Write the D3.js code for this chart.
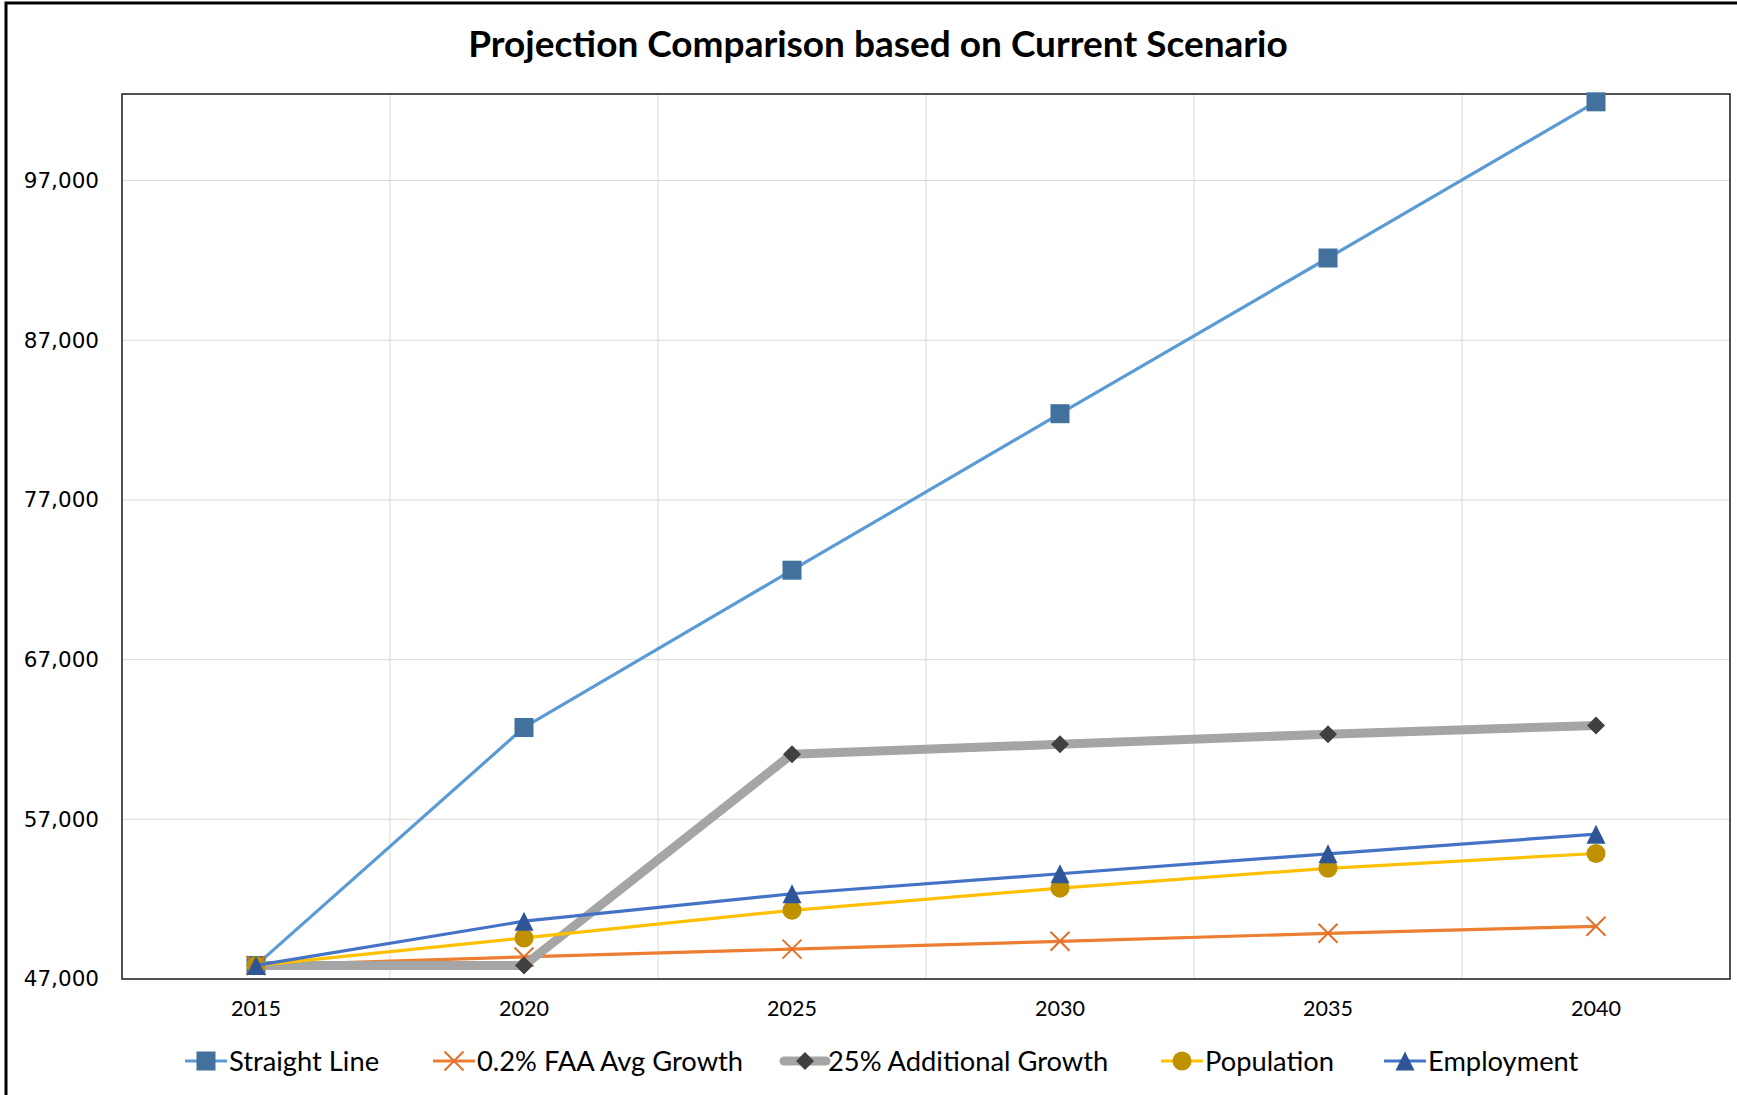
<!DOCTYPE html>
<html>
<head>
<meta charset="utf-8">
<script src="https://cdn.jsdelivr.net/npm/d3@7"></script>
<style>
    body { margin: 0; background: #fff; }
</style>
</head>
<body>
<div id="chart"></div>
<script>
var years = ["2015", "2020", "2025", "2030", "2035", "2040"];

var straightLine = [47850, 62750, 72600, 82400, 92150, 101930];
var faaGrowth = [47850, 48380, 48870, 49360, 49860, 50300];
var additionalGrowth = [47850, 47850, 61080, 61700, 62330, 62880];
var population = [47850, 49570, 51300, 52690, 53930, 54860];
var employment = [47850, 50620, 52340, 53590, 54840, 56070];

var yTicks = [47000, 57000, 67000, 77000, 87000, 97000];

var seriesNames = ["Straight Line", "0.2% FAA Avg Growth", "25% Additional Growth", "Population", "Employment"];

var width = 1737,
    height = 1095,
    plot = { left: 122, right: 1730, top: 94, bottom: 979 };

// styling per series, same order as seriesNames
var styles = [
    { line: "#5b9bd5", lineWidth: 3.2, marker: "square", fill: "#41719c", size: 19 },
    { line: "#ed7d31", lineWidth: 3.2, marker: "x", fill: "#e0702a", size: 19 },
    { line: "#a5a5a5", lineWidth: 9, marker: "diamond", fill: "#404040", size: 18 },
    { line: "#ffc000", lineWidth: 3.2, marker: "circle", fill: "#bf9000", size: 19 },
    { line: "#4472c4", lineWidth: 3.2, marker: "triangle", fill: "#2f5597", size: 19 }
];

var seriesValues = [straightLine, faaGrowth, additionalGrowth, population, employment];

function translate(xDelta, yDelta){
    return "translate(" + xDelta + "," + yDelta + ")";
}

function markerPath(type, s){
    var h = s / 2;
    if(type == "square") return "M" + (-h) + "," + (-h) + "h" + s + "v" + s + "h" + (-s) + "Z";
    if(type == "diamond") return "M0," + (-h) + "L" + h + ",0L0," + h + "L" + (-h) + ",0Z";
    if(type == "triangle") return "M0," + (-h) + "L" + h + "," + h + "L" + (-h) + "," + h + "Z";
    if(type == "x") return "M" + (-h) + "," + (-h) + "L" + h + "," + h + "M" + h + "," + (-h) + "L" + (-h) + "," + h;
    return d3.symbol().type(d3.symbolCircle).size(Math.PI * h * h)();
}

function drawMarker(sel, st){
    var p = sel.append("path").attr("d", markerPath(st.marker, st.size));
    if(st.marker == "x"){
        p.attr("fill", "none").attr("stroke", st.fill).attr("stroke-width", 2);
    }else{
        p.attr("fill", st.fill);
    }
}

var xScale = d3.scaleBand()
    .domain(years)
    .range([plot.left, plot.right])
    .padding(0);

var yScale = d3.scaleLinear()
    .domain([47000, 102420])
    .range([plot.bottom, plot.top]);

var svg = d3.select("#chart")
    .append("svg")
    .attr("width", width)
    .attr("height", height);

svg.append("rect")
    .attr("width", width)
    .attr("height", height)
    .attr("fill", "#fff");

// outer chart border
svg.append("rect")
    .attr("x", 6)
    .attr("y", 3)
    .attr("width", width + 20)
    .attr("height", height + 20)
    .attr("fill", "none")
    .attr("stroke", "#000")
    .attr("stroke-width", 3);

svg.append("text")
    .attr("x", 878)
    .attr("y", 57)
    .attr("text-anchor", "middle")
    .attr("font-family", "Lato, 'Open Sans', sans-serif")
    .attr("font-weight", "bold")
    .attr("font-size", 37)
    .attr("fill", "#000")
    .text("Projection Comparison based on Current Scenario");

// gridlines
svg.append("g")
    .selectAll("line")
    .data(yTicks.slice(1))
    .enter().append("line")
    .attr("x1", plot.left)
    .attr("x2", plot.right)
    .attr("y1", function(d){ return yScale(d); })
    .attr("y2", function(d){ return yScale(d); })
    .attr("stroke", "#d9d9d9")
    .attr("stroke-width", 1);

svg.append("g")
    .selectAll("line")
    .data(years.slice(1))
    .enter().append("line")
    .attr("x1", function(d){ return xScale(d); })
    .attr("x2", function(d){ return xScale(d); })
    .attr("y1", plot.top)
    .attr("y2", plot.bottom)
    .attr("stroke", "#d9d9d9")
    .attr("stroke-width", 1);

// axes (labels only, the box is drawn below)
var yAxis = d3.axisLeft(yScale)
    .tickValues(yTicks)
    .tickSize(0)
    .tickPadding(23)
    .tickFormat(d3.format(","));

var yG = svg.append("g")
    .attr("transform", translate(plot.left, 0))
    .call(yAxis);
yG.select(".domain").remove();
yG.selectAll("text")
    .attr("font-family", "'DejaVu Sans', Verdana, sans-serif")
    .attr("font-size", 21.5)
    .attr("fill", "#000");

var xAxis = d3.axisBottom(xScale)
    .tickSize(0)
    .tickPadding(22);

var xG = svg.append("g")
    .attr("transform", translate(0, plot.bottom))
    .call(xAxis);
xG.select(".domain").remove();
xG.selectAll("text")
    .attr("font-family", "Lato, sans-serif")
    .attr("font-size", 21.5)
    .attr("fill", "#000");

svg.append("rect")
    .attr("x", plot.left)
    .attr("y", plot.top)
    .attr("width", plot.right - plot.left)
    .attr("height", plot.bottom - plot.top)
    .attr("fill", "none")
    .attr("stroke", "#1a1a1a")
    .attr("stroke-width", 1.5);

// series
var line = d3.line()
    .x(function(d, i){ return xScale(years[i]) + xScale.bandwidth() / 2; })
    .y(function(d){ return yScale(d); });

seriesValues.forEach(function(vals, k){
    var st = styles[k];
    var g = svg.append("g").attr("class", "series");
    g.append("path")
        .datum(vals)
        .attr("d", line)
        .attr("fill", "none")
        .attr("stroke", st.line)
        .attr("stroke-width", st.lineWidth)
        .attr("stroke-linejoin", "round");
    g.selectAll(".pt")
        .data(vals)
        .enter().append("g")
        .attr("class", "pt")
        .attr("transform", function(d, i){
            return translate(xScale(years[i]) + xScale.bandwidth() / 2, yScale(d));
        })
        .each(function(){ drawMarker(d3.select(this), st); });
});

// legend
var legendX = [185, 433, 784, 1161, 1384];
var legend = svg.append("g")
    .selectAll("g")
    .data(seriesNames)
    .enter().append("g")
    .attr("transform", function(d, i){ return translate(legendX[i], 1061); });

legend.append("line")
    .attr("x1", 0)
    .attr("x2", 42)
    .attr("stroke", function(d, i){ return styles[i].line; })
    .attr("stroke-width", function(d, i){ return styles[i].lineWidth; })
    .attr("stroke-linecap", function(d, i){ return i == 2 ? "round" : "butt"; });

legend.each(function(d, i){
    var m = d3.select(this).append("g").attr("transform", translate(21, 0));
    drawMarker(m, styles[i]);
});

legend.append("text")
    .attr("x", 44)
    .attr("y", 10)
    .attr("font-family", "Lato, sans-serif")
    .attr("font-size", 27.3)
    .attr("fill", "#000")
    .text(function(d){ return d; });
</script>
</body>
</html>
